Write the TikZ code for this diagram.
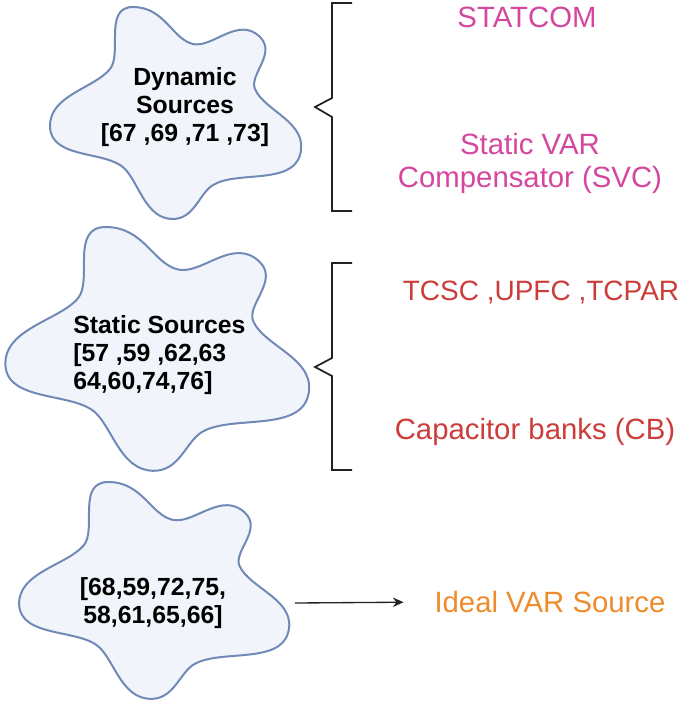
\documentclass[tikz,border=0pt]{standalone}
\usepackage{fontspec}
\setmainfont{Liberation Sans}
\usetikzlibrary{arrows.meta}
\definecolor{blobfill}{HTML}{F1F5FB}
\definecolor{blobline}{HTML}{7189B6}
\definecolor{magentatxt}{HTML}{D4479E}
\definecolor{redtxt}{HTML}{CC3D3A}
\definecolor{orangetxt}{HTML}{EE8B2C}
\definecolor{inkcol}{HTML}{222222}
\tikzset{
  blobline/.style={draw=blobline, fill=blobfill, line width=1.5pt},
  blobtext/.style={font=\bfseries\fontsize{18.6}{21}\selectfont, inner sep=0pt},
  devtext/.style={font=\fontsize{22}{24.75}\selectfont, inner sep=1pt, align=center},
  bracket/.style={draw=inkcol, line width=1.3pt},
  link/.style={draw=inkcol, line width=1pt, -{Stealth[length=8pt,width=7pt]}},
  blob/.pic={
    \path[blobline] (85,0) .. controls (116.7,0) and (124.4,32.3) .. (145,37)
      .. controls (164.6,41.4) and (190.5,8.5) .. (212,30)
      .. controls (228.7,46.7) and (201.0,67.6) .. (207,82)
      .. controls (216.1,104.1) and (261.5,115.5) .. (252,148)
      .. controls (243.5,178.0) and (188.7,163.6) .. (165,178)
      .. controls (151.2,186.3) and (146.2,212.6) .. (124,212)
      .. controls (97.9,211.2) and (91.2,177.0) .. (77,162)
      .. controls (59.2,143.2) and (3.3,152.7) .. (2,120)
      .. controls (0.7,88.3) and (46.2,81.5) .. (62,62)
      .. controls (74.5,46.6) and (55.3,0) .. (85,0) -- cycle;
  }
}
\begin{document}
\begin{tikzpicture}[x=0.75pt,y=-0.75pt]
\useasboundingbox (0,0) rectangle (685,708);
% blobs
\pic at (48,7) {blob};
\pic[xscale=1.209,yscale=1.150] at (3,227) {blob};
\pic[xscale=1.075,yscale=1.023] at (17,482) {blob};
% blob texts
\node[blobtext, align=center] (dyn) at (185,107) {Dynamic\\Sources\\{}[67 ,69 ,71 ,73]};
\node[blobtext, align=left, anchor=west] (stat) at (73,355) {Static Sources\\{}[57 ,59 ,62,63\\64,60,74,76]};
\node[blobtext, align=center] (ideal3) at (153,603) {[68,59,72,75,\\58,61,65,66]};
% brackets
\draw[bracket] (352,3) -- (332,3) -- (332,98) -- (315,107) -- (332,117) -- (332,211) -- (352,211);
\draw[bracket] (352,263) -- (332,263) -- (332,358) -- (315,367) -- (332,376) -- (332,470) -- (352,470);
% device texts
\node[devtext, text=magentatxt] (statcom) at (527,17) {STATCOM};
\node[devtext, text=magentatxt] (svc) at (530,163) {Static VAR\\Compensator (SVC)};
\node[devtext, text=redtxt, font=\fontsize{21}{24.75}\selectfont] (tcsc) at (541,293) {TCSC ,UPFC ,TCPAR};
\node[devtext, text=redtxt] (cb) at (535,432) {Capacitor banks (CB)};
\node[devtext, text=orangetxt] (ivs) at (550,602) {Ideal VAR Source};
% arrow
\coordinate (astart) at (295,603);
\draw[link, shorten >=22pt] (astart) -- (ivs.west);
\end{tikzpicture}
\end{document}
